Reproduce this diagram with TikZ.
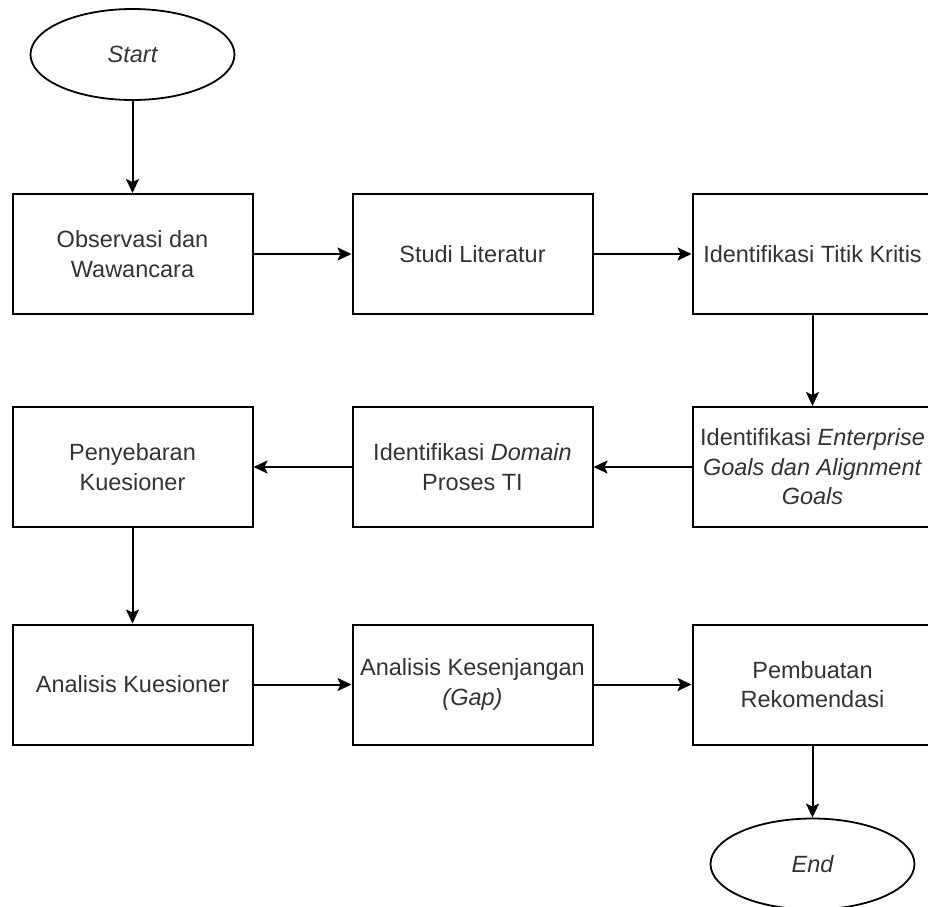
\documentclass[tikz,border=0pt]{standalone}
\usepackage{fontspec}
\setmainfont{Liberation Sans}
\usetikzlibrary{shapes.geometric,arrows.meta}
\definecolor{txtgray}{HTML}{333333}
\tikzset{
  procbox/.style={draw=black, line width=2pt, rectangle, minimum width=240pt, minimum height=120pt, inner sep=0pt, align=center, text=txtgray, font=\fontsize{23.5}{29.5}\selectfont},
  termnode/.style={draw=black, line width=1.8pt, ellipse, minimum width=204pt, minimum height=91pt, inner sep=0pt, text=txtgray, font=\fontsize{23.5}{29.5}\selectfont\itshape},
  flow/.style={draw=black, line width=2pt, -{Stealth[length=14pt,width=13pt,inset=3pt]}}
}
\begin{document}
\begin{tikzpicture}[x=1pt,y=-1pt]
\useasboundingbox (0,0) rectangle (928,906);
\clip (0,0) rectangle (928,906);
\node[termnode] (start) at (132.5,54.5) {Start};
\node[procbox] (obs) at (132.5,254) {Observasi dan\\Wawancara};
\node[procbox] (studi) at (472.5,254) {Studi Literatur};
\node[procbox] (titik) at (812.5,254) {Identifikasi Titik Kritis};
\node[procbox] (goals) at (812.5,467) {Identifikasi \textit{Enterprise}\\\textit{Goals dan Alignment}\\\textit{Goals}};
\node[procbox] (domain) at (472.5,467) {Identifikasi \textit{Domain}\\Proses TI};
\node[procbox] (sebar) at (132.5,467) {Penyebaran\\Kuesioner};
\node[procbox] (anakues) at (132.5,684.5) {Analisis Kuesioner};
\node[procbox] (gap) at (472.5,684.5) {Analisis Kesenjangan\\\textit{(Gap)}};
\node[procbox] (rekom) at (812.5,684.5) {Pembuatan\\Rekomendasi};
\node[termnode] (end) at (812.5,864) {End};
\draw[flow] (start) -- (obs);
\draw[flow] (obs) -- (studi);
\draw[flow] (studi) -- (titik);
\draw[flow] (titik) -- (goals);
\draw[flow] (goals) -- (domain);
\draw[flow] (domain) -- (sebar);
\draw[flow] (sebar) -- (anakues);
\draw[flow] (anakues) -- (gap);
\draw[flow] (gap) -- (rekom);
\draw[flow] (rekom) -- (end);
\end{tikzpicture}
\end{document}
